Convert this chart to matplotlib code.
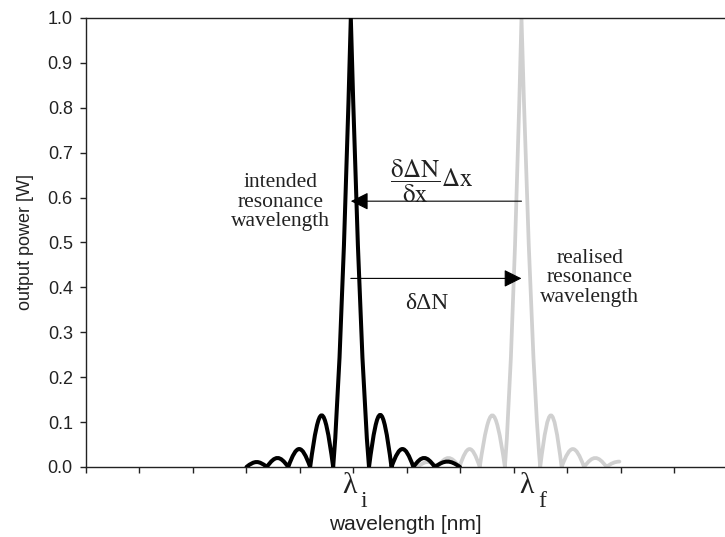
"""Two shifted resonance spectra with shift arrows.
"""
import matplotlib
matplotlib.use('agg')
import matplotlib.pyplot as plt
from matplotlib.path import Path
from matplotlib.patches import PathPatch

# black curve: intended resonance (zeros and lobe peaks)
black_zeros = [3.00, 3.38, 3.78, 4.19, 4.62, 5.29, 5.71, 6.12, 6.52, 6.99]
black_peak_x = [3.19, 3.59, 4.00, 4.41, 4.95, 5.48, 5.90, 6.34, 6.74]
black_peak_y = [0.011, 0.02, 0.04, 0.115, 1.0, 0.116, 0.04, 0.02, 0.012]

# grey curve: realised resonance (last lobe is cut at its top)
grey_zeros = [6.20, 6.57, 6.98, 7.36, 7.83, 8.49, 8.89, 9.31, 9.73]
grey_peak_x = [6.37, 6.77, 7.18, 7.58, 8.14, 8.69, 9.11, 9.53, 9.97]
grey_peak_y = [0.011, 0.02, 0.04, 0.115, 1.0, 0.115, 0.04, 0.02, 0.012]

y_ticks = [0.0, 0.1, 0.2, 0.3, 0.4, 0.5, 0.6, 0.7, 0.8, 0.9, 1.0]
x_ticks = [0, 1, 2, 3, 4, 5, 6, 7, 8, 9, 10, 11]

lambda_i = 4.925
lambda_f = 8.234
arrow_left_y = 0.592
arrow_right_y = 0.42


def lobe_path(zeros, peak_x, peak_y):
    verts = [(zeros[0], 0.0)]
    codes = [Path.MOVETO]
    for k in range(len(peak_x)):
        xp, h = peak_x[k], peak_y[k]
        if k + 1 < len(zeros):
            x0, x1 = zeros[k], zeros[k + 1]
            if h > 0.5:
                # main lobe: slightly concave flanks and a sharp top
                d0, d1 = xp - x0, x1 - xp
                verts += [(xp - 0.53 * d0, 0.22 * h), (xp, h),
                          (xp + 0.53 * d1, 0.22 * h), (x1, 0.0)]
                codes += [Path.CURVE3] * 4
            else:
                w = x1 - x0
                verts += [(x0 + 0.4 * w, 4 * h / 3), (x1 - 0.4 * w, 4 * h / 3),
                          (x1, 0.0)]
                codes += [Path.CURVE4] * 3
        else:
            x0 = zeros[k]
            verts += [((x0 + xp) / 2, h), (xp, h)]
            codes += [Path.CURVE3, Path.CURVE3]
    return Path(verts, codes)


def main():
    plt.rcParams['font.family'] = ['Liberation Sans', 'DejaVu Sans']
    plt.rcParams['mathtext.fontset'] = 'stix'

    fig = plt.figure(figsize=(7.25, 5.37), dpi=100)
    ax = fig.add_axes([0.1186, 0.1304, 0.8814, 0.8361])

    grey = PathPatch(lobe_path(grey_zeros, grey_peak_x, grey_peak_y),
        facecolor='none', edgecolor='#d0d0d0', linewidth=2.7,
        capstyle='round', joinstyle='round', zorder=2)
    ax.add_patch(grey)
    black = PathPatch(lobe_path(black_zeros, black_peak_x, black_peak_y),
        facecolor='none', edgecolor='black', linewidth=2.9,
        capstyle='round', joinstyle='round', zorder=3)
    ax.add_patch(black)

    ax.set_xlim(0, 11.944)
    ax.set_ylim(0, 1.0)
    ax.set_yticks(y_ticks)
    ax.set_yticklabels(['{:.1f}'.format(v) for v in y_ticks])
    ax.set_xticks(x_ticks)
    ax.set_xticklabels([])
    ax.spines['right'].set_visible(False)
    for side in ['left', 'bottom', 'top']:
        ax.spines[side].set_linewidth(1.0)
        ax.spines[side].set_color('#222222')
    ax.tick_params(axis='both', direction='out', length=4.5, width=1.0,
        color='#222222', labelsize=13, pad=5, labelcolor='#222222')
    ax.tick_params(axis='x', top=False)

    ax.set_ylabel('output power [W]', fontsize=13, color='#222222', labelpad=10)
    ax.set_xlabel('wavelength [nm]', fontsize=15, color='#222222', labelpad=25)

    # resonance labels under the axis
    serif = ['Liberation Serif', 'DejaVu Serif']
    ax.text(lambda_i, -0.058, 'λ', family=serif, fontsize=21.5,
        ha='center', va='baseline', color='#222222')
    ax.text(lambda_i + 0.262, -0.089, 'i', family=serif, fontsize=17,
        ha='center', va='baseline', color='#222222')
    ax.text(lambda_f, -0.058, 'λ', family=serif, fontsize=21.5,
        ha='center', va='baseline', color='#222222')
    ax.text(lambda_f + 0.3, -0.089, 'f', family=serif, fontsize=17,
        ha='center', va='baseline', color='#222222')

    head = '-|>,head_length=0.4,head_width=0.2'
    ax.annotate('', xy=(black_peak_x[4], arrow_left_y),
        xytext=(grey_peak_x[4], arrow_left_y),
        arrowprops=dict(arrowstyle=head, color='black', lw=0.8,
                        mutation_scale=27, shrinkA=0, shrinkB=0))
    ax.annotate('', xy=(grey_peak_x[4], arrow_right_y),
        xytext=(black_peak_x[4], arrow_right_y),
        arrowprops=dict(arrowstyle=head, color='black', lw=0.8,
                        mutation_scale=27, shrinkA=0, shrinkB=0))

    ax.text(3.63, 0.59, 'intended\nresonance\nwavelength', family=serif,
        fontsize=15.5, ha='center', va='center', linespacing=1.05,
        color='#222222')
    ax.text(9.42, 0.421, 'realised\nresonance\nwavelength', family=serif,
        fontsize=15.5, ha='center', va='center', linespacing=1.05,
        color='#222222')
    ax.text(6.46, 0.637,
        r'$\dfrac{\mathrm{δΔN}}{\mathrm{δx}}\mathrm{Δx}$',
        fontsize=18, ha='center', va='center', color='#222222')
    ax.text(6.37, 0.365, 'δΔN', family=serif, fontsize=17,
        ha='center', va='center', color='#222222')

    fig.savefig('out.png', dpi=100)


if __name__ == '__main__':
    main()
